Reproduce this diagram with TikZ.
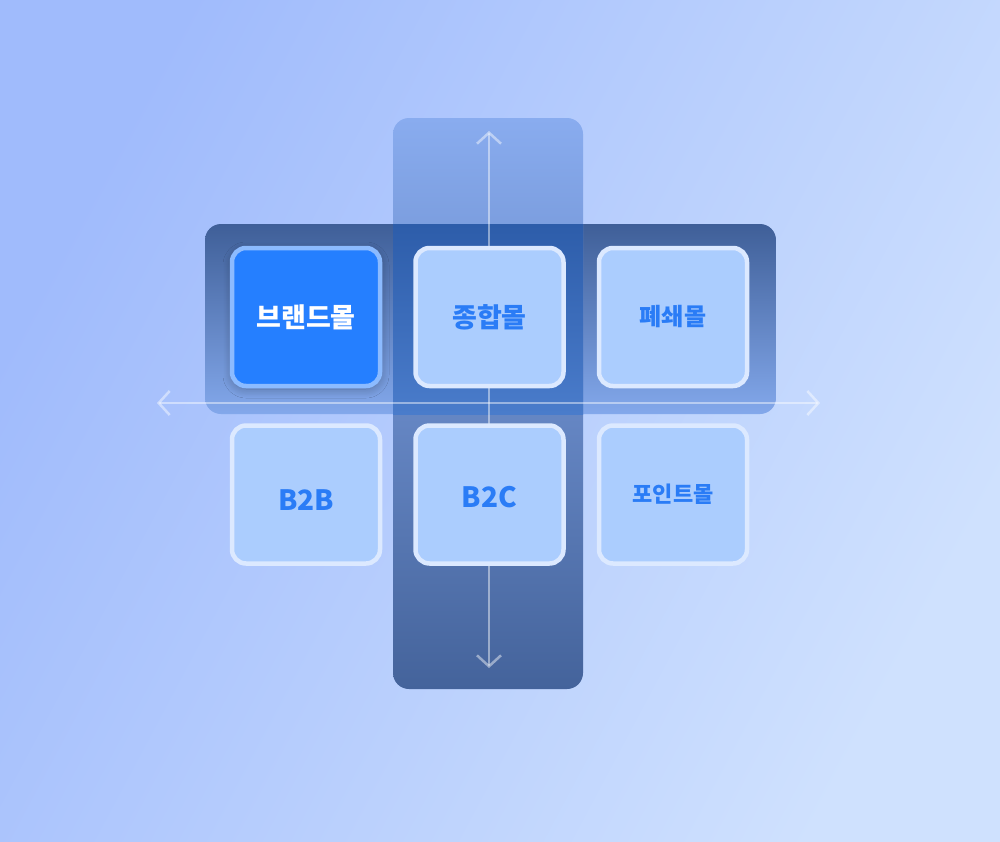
\documentclass[tikz,border=0pt]{standalone}
\usepackage{fontspec}
\newfontfamily\kr{Noto Sans CJK KR}
\usetikzlibrary{arrows.meta,shadows.blur}
\definecolor{bgA}{HTML}{A0BBFC}
\definecolor{bgB}{HTML}{CFE1FE}
\definecolor{hbTop}{HTML}{3F5F98}
\definecolor{hbBot}{HTML}{83A8EB}
\definecolor{vbTop}{HTML}{89ACEF}
\definecolor{vbMid}{HTML}{6890D6}
\definecolor{vbBot}{HTML}{44639B}
\definecolor{xTop}{HTML}{2D5DAA}
\definecolor{xBot}{HTML}{4A7CCB}
\definecolor{boxFill}{HTML}{ABCDFE}
\definecolor{boxLine}{HTML}{DCE9FF}
\definecolor{hiFill}{HTML}{257FFF}
\definecolor{hiLine}{HTML}{8CBBFF}
\definecolor{txt}{HTML}{2A7CF6}
\tikzset{
  cell/.style={draw=boxLine, fill=boxFill, line width=4.5pt, rounded corners=14pt,
    minimum width=148pt, minimum height=138pt, inner sep=0pt,
    text=txt, font=\kr\bfseries\fontsize{27}{30}\selectfont},
  hicell/.style={cell, draw=hiLine, fill=hiFill, text=white,
    blur shadow={shadow xshift=0pt, shadow yshift=-3pt, shadow blur radius=9pt, shadow opacity=28, shadow blur steps=12}},
  axis/.style={draw=white, draw opacity=0.45, line width=2.5pt, line cap=round,
    arrows={Straight Barb[length=11pt,width=24pt,line width=2.5pt]-Straight Barb[length=11pt,width=24pt,line width=2.5pt]}}
}
\begin{document}
\begin{tikzpicture}[x=1pt,y=-1pt]
\useasboundingbox (0,0) rectangle (1000,841);
% background
\shade[top color=bgA, bottom color=bgB, shading angle=62] (0,0) rectangle (1000,841);
% horizontal band
\shade[rounded corners=16pt, top color=hbTop, bottom color=hbBot] (205,224) rectangle (776,414);
% vertical band
\shade[rounded corners=16pt, top color=vbTop, middle color=vbMid, bottom color=vbBot] (393,118) rectangle (583,689);
% intersection
\shade[top color=xTop, bottom color=xBot] (393,224) rectangle (583,414);
% axes
\coordinate (L) at (157,403);
\coordinate (R) at (820,403);
\coordinate (T) at (489,131);
\coordinate (B) at (489,668);
\draw[axis] (L) -- (R);
\draw[axis] (T) -- (B);
% cells
\node[hicell] (brand) at (306,317) {브랜드몰};
\node[cell] (jonghap) at (489.5,317) {종합몰};
\node[cell, font=\kr\bfseries\fontsize{24}{28}\selectfont] (pyeswae) at (673,317) {폐쇄몰};
\node[cell, font=\kr\bfseries\fontsize{28}{30}\selectfont] (b2b) at (306,494.5) {\raisebox{-15.5pt}[0pt][0pt]{B2B}};
\node[cell, font=\kr\bfseries\fontsize{28}{30}\selectfont] (b2c) at (489.5,494.5) {\raisebox{-13pt}[0pt][0pt]{B2C}};
\node[cell, font=\kr\bfseries\fontsize{22}{26}\selectfont] (point) at (673,494.5) {포인트몰};
\end{tikzpicture}
\end{document}
